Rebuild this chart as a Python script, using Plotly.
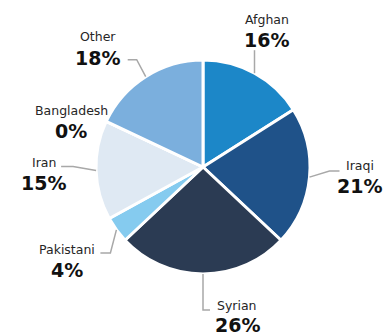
import math
import plotly.graph_objects as go

# Nationality breakdown (percent)
labels = ["Afghan", "Iraqi", "Syrian", "Pakistani", "Iran", "Bangladesh", "Other"]
values = [16, 21, 26, 4, 15, 0, 18]
colors = ["#1c87c8", "#1f5289", "#2b3b53", "#85cbef", "#dfe9f3", "#5a9bd5", "#7bafdd"]

W, H = 392, 336
CX, CY, R = 203, 167, 107  # pie centre and radius in pixels (y grows downward)

# Leader-line geometry per label: elbow offset from the slice edge, horizontal tail,
# and text centre offset (name line, percent line) from the tail end.
LABEL_STYLE = {
    "Afghan":     dict(elbow=(0, -23),  tail=0,   text=(12, -31, -10)),
    "Iraqi":      dict(elbow=(20, -6),  tail=10,  text=(20, -6, 15)),
    "Syrian":     dict(elbow=(0, 36),   tail=7,   text=(27, -5, 15)),
    "Pakistani":  dict(elbow=(-6, 23),  tail=-10, text=(-33, -3, 17)),
    "Iran":       dict(elbow=(-23, -4), tail=-12, text=(-17.5, -4, 17)),
    "Bangladesh": dict(elbow=None,      tail=0,   text=(-35, -11, 10)),
    "Other":      dict(elbow=(-9, -17), tail=-9,  text=(-30, -23, -2)),
}

fig = go.Figure()
fig.add_trace(go.Pie(
    labels=labels,
    values=values,
    sort=False,
    direction="clockwise",
    rotation=0,
    marker=dict(colors=colors, line=dict(color="#ffffff", width=3)),
    textinfo="none",
    hoverinfo="label+percent",
    showlegend=False,
    domain=dict(x=[(CX - R) / W, (CX + R) / W],
                y=[(H - CY - R) / H, (H - CY + R) / H]),
))

# invisible pixel-space axes for leader lines and labels
fig.add_trace(go.Scatter(x=[0, W], y=[0, H], mode="markers",
                         marker=dict(opacity=0), hoverinfo="skip", showlegend=False))

total = sum(values)
cum = 0.0
shapes, annotations = [], []
for name, v in zip(labels, values):
    mid = (cum + v / 2) / total * 2 * math.pi
    cum += v
    ex = CX + R * math.sin(mid)
    ey = CY - R * math.cos(mid)
    st = LABEL_STYLE[name]
    if st["elbow"] is not None:
        bx, by = ex + st["elbow"][0], ey + st["elbow"][1]
        tx = bx + st["tail"]
        path = f"M {ex:.1f},{ey:.1f} L {bx:.1f},{by:.1f} L {tx:.1f},{by:.1f}"
        shapes.append(dict(type="path", path=path, xref="x", yref="y",
                           line=dict(color="#a8a8a8", width=1.5)))
        ax, ay = tx, by
    else:
        ax, ay = ex, ey
    dx, dy_name, dy_pct = st["text"]
    pct = round(v / total * 100)
    annotations.append(dict(x=ax + dx, y=ay + dy_name, xref="x", yref="y",
                            text=name, showarrow=False, xanchor="center", yanchor="middle",
                            font=dict(family="DejaVu Sans", size=12.5, color="#262626")))
    annotations.append(dict(x=ax + dx, y=ay + dy_pct, xref="x", yref="y",
                            text=f"<b>{pct}%</b>", showarrow=False, xanchor="center", yanchor="middle",
                            font=dict(family="DejaVu Sans", size=19, color="#111111")))

fig.update_layout(
    width=W, height=H,
    margin=dict(l=0, r=0, t=0, b=0),
    paper_bgcolor="#ffffff", plot_bgcolor="rgba(0,0,0,0)",
    xaxis=dict(range=[0, W], visible=False, fixedrange=True),
    yaxis=dict(range=[H, 0], visible=False, fixedrange=True),
    shapes=shapes, annotations=annotations,
)

fig.write_html("out.html", config={"displayModeBar": False})
